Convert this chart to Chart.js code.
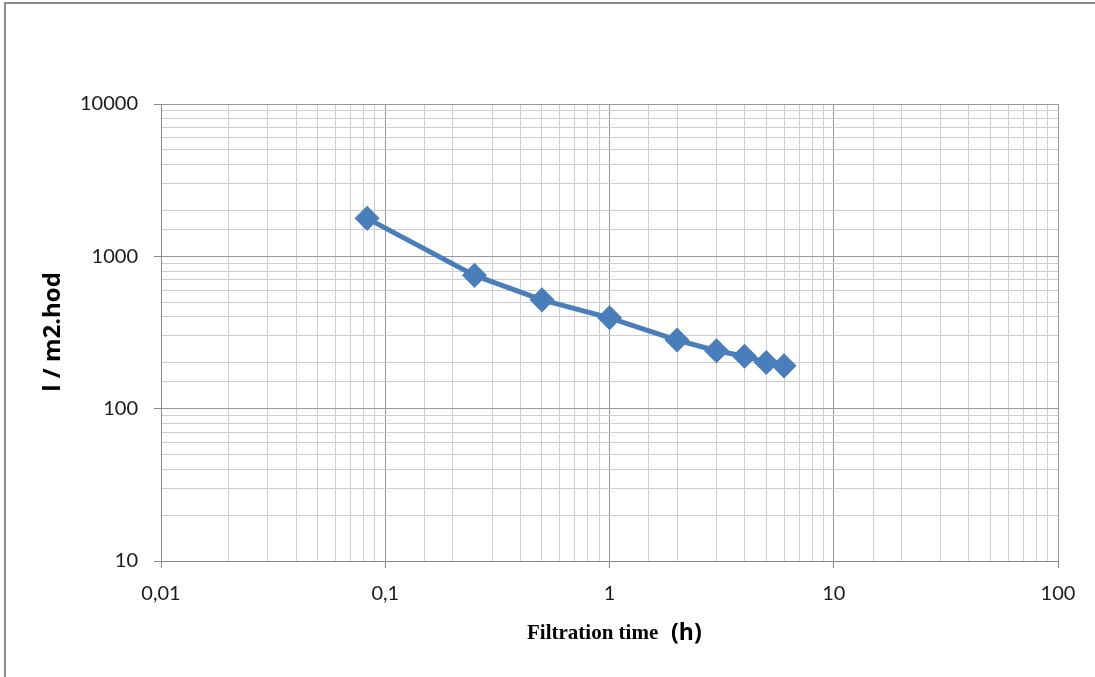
<!DOCTYPE html>
<html>
<head>
<meta charset="utf-8">
<script src="https://cdn.jsdelivr.net/npm/chart.js@4.4.7/dist/chart.umd.js"></script>
<style>
  html, body { margin: 0; padding: 0; background: #fff; }
  #wrap { width: 1095px; height: 677px; position: relative; }
</style>
</head>
<body>
<div id="wrap"><canvas id="c" width="1095" height="677"></canvas></div>
<script>
// filtration time (h) and flux (l / m2.hod)
const times = [0.083, 0.25, 0.5, 1, 2, 3, 4, 5, 6];
const flux = [1775, 750, 518, 395, 282, 240, 221, 201, 191];

const xRange = [0.01, 100];
const yRange = [10, 10000];

function isDecade(v) {
  const l = Math.log10(v);
  return Math.abs(l - Math.round(l)) < 1e-6;
}

function decadeLabel(v) {
  if (!isDecade(v)) return '';
  const e = Math.round(Math.log10(v));
  if (e < 0) return '0,' + '0'.repeat(-e - 1) + '1';
  return String(Math.pow(10, e));
}

const gridColor = (ctx) => (ctx.tick && isDecade(ctx.tick.value) ? '#999999' : '#cdcdcd');
const tickMarkColor = (ctx) => (ctx.tick && isDecade(ctx.tick.value) ? '#888888' : 'rgba(0,0,0,0)');

// frame + axis titles
const decor = {
  id: 'decor',
  beforeDraw(chart) {
    const c = chart.ctx;
    c.save();
    c.fillStyle = '#fff';
    c.fillRect(0, 0, chart.width, chart.height);
    c.strokeStyle = '#8a8a8a';
    c.lineWidth = 2;
    c.beginPath();
    c.moveTo(5, chart.height);
    c.lineTo(5, 3);
    c.lineTo(chart.width, 3);
    c.stroke();
    c.restore();
  },
  afterDraw(chart) {
    const c = chart.ctx;
    c.save();
    c.fillStyle = '#000';
    // y title
    c.translate(53, 332);
    c.rotate(-Math.PI / 2);
    c.font = 'bold 24px "Open Sans"';
    c.textAlign = 'center';
    c.textBaseline = 'middle';
    c.fillText('l / m2.hod', 0, 0);
    c.restore();

    c.save();
    c.fillStyle = '#000';
    c.textBaseline = 'alphabetic';
    c.textAlign = 'left';
    c.font = 'bold 21px "Liberation Serif"';
    c.fillText('Filtration time', 527, 639);
    c.font = 'bold 23px "Open Sans"';
    c.fillText('(h)', 671, 640);
    c.restore();
  }
};

new Chart(document.getElementById('c'), {
  type: 'line',
  data: {
    datasets: [{
      data: times.map((t, i) => ({ x: t, y: flux[i] })),
      borderColor: '#4a7ebb',
      backgroundColor: '#4a7ebb',
      borderWidth: 5,
      pointStyle: 'rectRot',
      pointRadius: 9,
      pointHoverRadius: 9,
      tension: 0,
      fill: false
    }]
  },
  options: {
    responsive: false,
    animation: false,
    layout: { padding: { top: 104, right: 37, left: 0, bottom: 0 } },
    plugins: { legend: { display: false }, tooltip: { enabled: false } },
    scales: {
      x: {
        type: 'logarithmic',
        min: xRange[0],
        max: xRange[1],
        afterFit: (s) => { s.height = 116; },
        border: { color: '#888888', width: 1 },
        grid: { color: gridColor, tickColor: tickMarkColor, tickLength: 7, lineWidth: 1 },
        ticks: {
          autoSkip: false,
          maxRotation: 0,
          padding: 14,
          color: '#1a1a1a',
          font: { family: 'Lato', size: 20 },
          callback: (v) => decadeLabel(v)
        }
      },
      y: {
        type: 'logarithmic',
        min: yRange[0],
        max: yRange[1],
        afterFit: (s) => { s.width = 161; },
        border: { color: '#888888', width: 1 },
        grid: { color: gridColor, tickColor: tickMarkColor, tickLength: 7, lineWidth: 1 },
        ticks: {
          autoSkip: false,
          padding: 16,
          color: '#1a1a1a',
          font: { family: 'Lato', size: 20 },
          callback: (v) => decadeLabel(v)
        }
      }
    }
  },
  plugins: [decor]
});
</script>
</body>
</html>
